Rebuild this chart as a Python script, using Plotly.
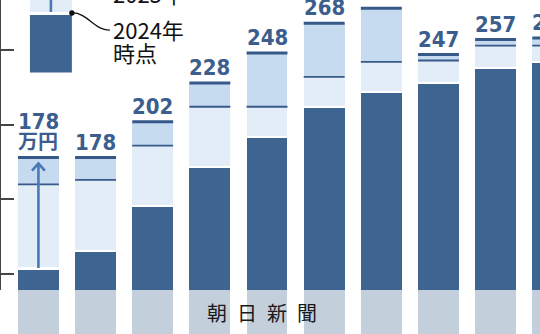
import plotly.graph_objects as go

# ---- data ----
positions = list(range(10))                       # bar slots (category labels are cut off)
top_values = [178, 178, 202, 228, 248, 268, 278, 247, 257, 258]
mid_values = [160, 163, 186, 212, 212, 232, 242, 243, 253, 253]
values_2024 = [103, 115, 145, 171, 191, 211, 221, 227, 237, 241]
top_labels = ["178", "178", "202", "228", "248", "268", "278", "247", "257", "258"]
unit_label = "万円"
legend_top = "2025年"
legend_bottom = ["2024年", "時点"]
tick_values = [100, 150, 200, 250]
watermark = "朝日新聞"

# ---- style ----
W, H = 540, 334
Y_MIN, Y_MAX = 89.3, 283.5
X_MIN, X_MAX = -0.655, 8.777
BAR_W = 0.716
GAP = 1.4
DARK = "#3e6491"
LINE = "#36598a"
PALE = "#e3edf8"
MED = "#c6daf0"
GRAY = "#c4cfdc"
ARROW = "#4a7ab5"
TXT = "#3b5e8d"
LOW_DOMAIN = 44 / H

fig = go.Figure()

# gray label cells under the bars
fig.add_trace(go.Bar(x=positions, y=[1] * len(positions), yaxis="y2", width=BAR_W,
                     marker=dict(color=GRAY, line=dict(width=0)), hoverinfo="skip"))
# 2024 (dark)
fig.add_trace(go.Bar(x=positions, y=[v - Y_MIN for v in values_2024], base=[Y_MIN] * len(positions),
                     width=BAR_W, marker=dict(color=DARK, line=dict(width=0))))
# pale segment
fig.add_trace(go.Bar(x=positions, y=[m - d - GAP for m, d in zip(mid_values, values_2024)],
                     base=[d + GAP for d in values_2024], width=BAR_W,
                     marker=dict(color=PALE, line=dict(width=0))))
# light blue segment
fig.add_trace(go.Bar(x=positions, y=[t - m for t, m in zip(top_values, mid_values)],
                     base=mid_values, width=BAR_W, marker=dict(color=MED, line=dict(width=0))))


def hlines(vals):
    xs, ys = [], []
    for i, v in zip(positions, vals):
        xs += [i - BAR_W / 2, i + BAR_W / 2, None]
        ys += [v, v, None]
    return xs, ys


xs, ys = hlines(mid_values)
fig.add_trace(go.Scatter(x=xs, y=ys, mode="lines", line=dict(color=LINE, width=1.8), hoverinfo="skip"))
xs, ys = hlines(top_values)
fig.add_trace(go.Scatter(x=xs, y=ys, mode="lines", line=dict(color=LINE, width=3), hoverinfo="skip"))

# arrow in the first bar
a_x = positions[0]
a_start = values_2024[0] + 1
a_end = top_values[0] - 4
fig.add_trace(go.Scatter(x=[a_x, a_x], y=[a_start, a_end], mode="lines",
                         line=dict(color=ARROW, width=2.6), hoverinfo="skip"))
fig.add_trace(go.Scatter(x=[a_x - 0.113, a_x, a_x + 0.113], y=[a_end - 4.7, a_end, a_end - 4.7],
                         mode="lines", line=dict(color=ARROW, width=2.6), hoverinfo="skip"))


def xpaper(i):
    return (i - X_MIN) / (X_MAX - X_MIN)


annotations = []
num_font = dict(family="Liberation Sans Narrow, DejaVu Sans Condensed, sans-serif", size=22,
                color=TXT, weight="bold")
for i, (v, lab) in zip(positions, zip(top_values, top_labels)):
    if i == 0:
        annotations.append(dict(xref="paper", x=xpaper(i), y=v, text=unit_label, showarrow=False,
                                xanchor="center", yanchor="bottom", yshift=1,
                                font=dict(family="Noto Sans CJK JP", size=20, color=TXT,
                                          weight="bold")))
        annotations.append(dict(xref="paper", x=xpaper(i), y=v, text=lab, showarrow=False,
                                xanchor="center", yanchor="bottom", yshift=22, font=num_font))
    else:
        annotations.append(dict(xref="paper", x=xpaper(i), y=v, text=lab, showarrow=False,
                                xanchor="center", yanchor="bottom", yshift=1, font=num_font))

jp = dict(family="Noto Sans CJK JP", size=22, color="#111")
annotations.append(dict(xref="paper", yref="paper", x=110 / W, y=1 - 11 / H, text=legend_top,
                        showarrow=False, xanchor="left", yanchor="bottom", font=jp))
annotations.append(dict(xref="paper", yref="paper", x=110 / W, y=1 - 29 / H, text=legend_bottom[0],
                        showarrow=False, xanchor="left", yanchor="middle", font=jp))
annotations.append(dict(xref="paper", yref="paper", x=110 / W, y=1 - 52 / H, text=legend_bottom[1],
                        showarrow=False, xanchor="left", yanchor="middle", font=jp))
annotations.append(dict(xref="paper", yref="paper", x=261 / W, y=1 - 312 / H,
                        text="\u2002".join(watermark), showarrow=False,
                        xanchor="center", yanchor="middle",
                        font=dict(family="Noto Sans CJK JP", size=20, color="#1a1a1a")))


def px(x):
    return x / W


def py(y):
    return 1 - y / H


shapes = [
    dict(type="rect", xref="paper", yref="paper", x0=px(29), x1=px(71), y0=py(12), y1=py(-5),
         fillcolor=PALE, line=dict(width=0), layer="above"),
    dict(type="line", xref="paper", yref="paper", x0=px(50), x1=px(50), y0=py(12), y1=py(-5),
         line=dict(color=ARROW, width=2.6), layer="above"),
    dict(type="rect", xref="paper", yref="paper", x0=px(29), x1=px(71), y0=py(72.5), y1=py(15),
         fillcolor=DARK, line=dict(width=0), layer="above"),
    dict(type="path", xref="paper", yref="paper",
         path=f"M {px(71)},{py(13)} C {px(86)},{py(12)} {px(94)},{py(31)} {px(109)},{py(30)}",
         line=dict(color="#111", width=1.3), layer="above"),
    dict(type="circle", xref="paper", yref="paper", x0=px(68.3), x1=px(73.7), y0=py(15.7), y1=py(10.3),
         fillcolor="#111", line=dict(width=0), layer="above"),
]

fig.update_layout(
    width=W, height=H, margin=dict(l=1, r=0, t=0, b=0),
    paper_bgcolor="white", plot_bgcolor="white",
    barmode="overlay", showlegend=False, bargap=0,
    xaxis=dict(range=[X_MIN, X_MAX], visible=False, fixedrange=True),
    yaxis=dict(domain=[LOW_DOMAIN, 1], range=[Y_MIN, Y_MAX], showline=True, linecolor="#444",
               linewidth=2, ticks="inside", ticklen=13, tickwidth=1.5, tickcolor="#444",
               tickvals=tick_values, showticklabels=False, showgrid=False, zeroline=False),
    yaxis2=dict(domain=[0, LOW_DOMAIN], range=[0, 1], visible=False),
    annotations=annotations, shapes=shapes,
)

fig.write_html("out.html")
